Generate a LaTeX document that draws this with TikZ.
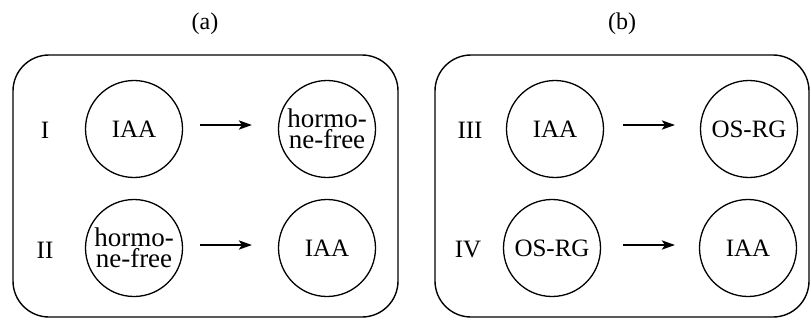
\documentclass[tikz,border=0pt]{standalone}
\usepackage{fontspec}
\setmainfont{Liberation Serif}
\usetikzlibrary{arrows.meta}
\begin{document}
\begin{tikzpicture}[x=1pt,y=-1pt,
  panel/.style={draw,line width=1.4pt,rounded corners=36pt},
  dish/.style={draw,circle,line width=1.3pt,minimum size=97pt,inner sep=0pt,
    font=\fontsize{25}{20}\selectfont,align=center},
  twoline/.style={font=\fontsize{27}{21}\selectfont},
  rowlabel/.style={font=\fontsize{25}{25}\selectfont},
  caption/.style={font=\fontsize{24}{24}\selectfont},
  transfer/.style={line width=2.6pt,-{Stealth[length=13pt,width=9pt,inset=3pt]}}]
\useasboundingbox (0,0) rectangle (811,321);

% panel frames
\draw[panel] (13,55) rectangle (398,317);
\draw[panel] (435,55) rectangle (809,317);

% panel captions
\node[caption] (capa) at (205,24) {(a)};
\node[caption] (capb) at (622,24) {(b)};

% panel (a)
\node[rowlabel] (lI)  at (45,130) {I};
\node[rowlabel] (lII) at (45,250) {II};
\node[dish] (a1) at (134,129) {IAA};
\node[dish,twoline] (a2) at (327,129) {hormo-\\ne-free};
\node[dish,twoline] (a3) at (134,248) {hormo-\\ne-free};
\node[dish] (a4) at (327,248) {IAA};
\coordinate (a1s) at (200,125);
\coordinate (a1e) at (252,125);
\coordinate (a3s) at (200,245);
\coordinate (a3e) at (252,245);
\draw[transfer] (a1s) -- (a1e);
\draw[transfer] (a3s) -- (a3e);

% panel (b)
\node[rowlabel] (lIII) at (470,130) {III};
\node[rowlabel] (lIV)  at (468,250) {IV};
\node[dish] (b1) at (555,129) {IAA};
\node[dish] (b2) at (749,129) {OS-RG};
\node[dish] (b3) at (552,248) {OS-RG};
\node[dish] (b4) at (748,248) {IAA};
\coordinate (b1s) at (623,125);
\coordinate (b1e) at (675,125);
\coordinate (b3s) at (623,245);
\coordinate (b3e) at (675,245);
\draw[transfer] (b1s) -- (b1e);
\draw[transfer] (b3s) -- (b3e);
\end{tikzpicture}
\end{document}
